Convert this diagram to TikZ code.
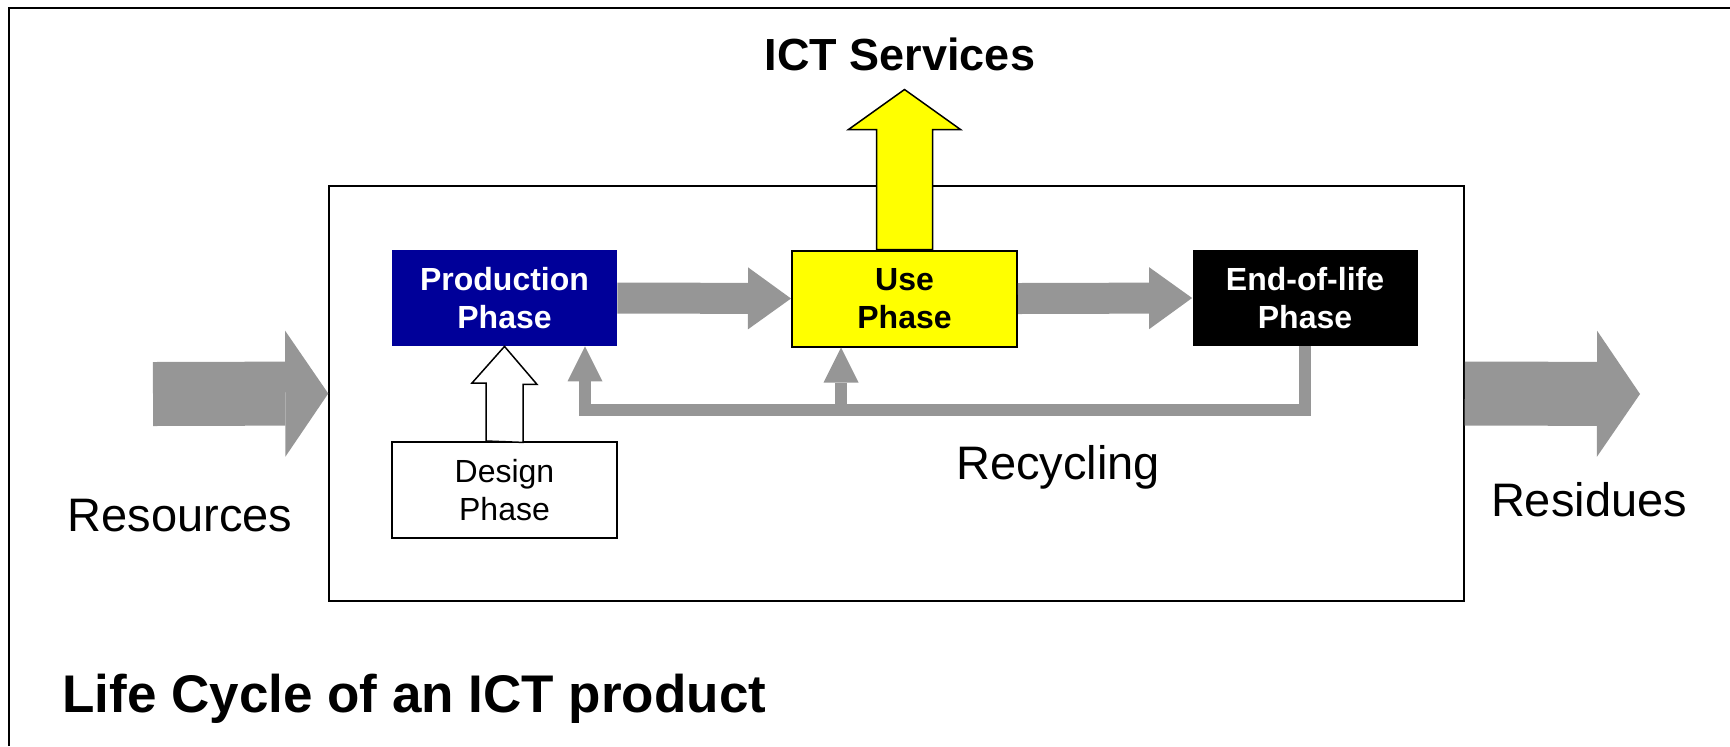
\documentclass[tikz,border=0pt]{standalone}
\usepackage{fontspec}
\setmainfont{Liberation Sans}
\usepackage{tikz}
\usetikzlibrary{arrows.meta,positioning}
\definecolor{lcgray}{RGB}{150, 150, 150}
\definecolor{lcblue}{RGB}{0, 0, 153}
\definecolor{lcyellow}{RGB}{255, 255, 0}

\begin{document}
\begin{tikzpicture}[x=0.5pt, y=-0.5pt,
  phasebox/.style={minimum width=112.5pt, minimum height=48pt, inner sep=0pt, align=center,
    font=\bfseries\fontsize{16}{19}\selectfont},
  flowarrow/.style={lcgray, line width=15.5pt, -{Triangle[width=31pt, length=21.5pt, line width=0pt]}},
  bigarrow/.style={lcgray, line width=32pt, -{Triangle[width=63pt, length=21.5pt, line width=0pt]}},
  recyarrow/.style={lcgray, line width=6pt, -{Triangle[width=17.5pt, length=17.5pt, line width=0pt]}},
  label/.style={inner sep=0pt, anchor=base, font=\fontsize{23.5}{28}\selectfont}]
\useasboundingbox (0,0) rectangle (1730,746);
% Frame
\draw[line width=1pt] (8.5,746) |- (1730,7.5);
% Product box
\node[draw, line width=0.75pt, minimum width=567.5pt, minimum height=207.5pt] (lcbox) at (896.5,393.5) {};
% Phases
\node[phasebox, fill=lcblue, text=white] (prod) at (504.5,298) {Production\\Phase};
\node[phasebox, fill=lcyellow, draw, line width=1pt] (use) at (904.5,298.5) {Use\\Phase};
\node[phasebox, fill=black, text=white] (eol) at (1305,298) {End-of-life\\Phase};
\node[phasebox, draw, line width=1pt, font=\fontsize{16}{19}\selectfont] (design) at (504.5,490) {Design\\Phase};
% Flow between phases
\draw[flowarrow] (prod.east) -- (use.west);
\draw[flowarrow] (use.east) -- (eol.west);
% Services out of the use phase
\draw[fill=lcyellow, line width=0.75pt] (use.north) ++(-28,0) -- ++(0,-120) -- ++(-28,0) -- ++(56,-40)
  -- ++(56,40) -- ++(-28,0) -- ++(0,120) -- cycle;
\node[inner sep=0pt, anchor=base, font=\bfseries\fontsize{22.5}{27}\selectfont] (services) at (900,70) {ICT Services};
% Design feeds production
\draw[fill=white, line width=0.75pt] (design.north) ++(-18.5,0) -- ++(0,-58) -- ++(-14,0) -- (prod.south)
  -- ++(32.5,38) -- ++(-14,0) -- ++(0,58) -- cycle;
% Recycling loop
\coordinate (rbl) at (585,410);
\coordinate (rbm) at (841,410);
\draw[recyarrow] (eol.south) |- (rbl) -- (rbl |- prod.south);
\draw[recyarrow] (rbm) -- (rbm |- use.south);
\node[label] (recycling) at (1058,479) {Recycling};
% Resources in, residues out
\coordinate (resin) at (153,394);
\coordinate (resout) at (1640,394);
\draw[bigarrow] (resin) -- (lcbox.west);
\draw[bigarrow] (lcbox.east) -- (resout);
\node[label] (resources) at (180,531) {Resources};
\node[label] (residues) at (1589,516) {Residues};
% Title
\node[inner sep=0pt, anchor=base west, font=\bfseries\fontsize{26.5}{32}\selectfont] (title) at (62,712) {Life Cycle of an ICT product};
\end{tikzpicture}
\end{document}
